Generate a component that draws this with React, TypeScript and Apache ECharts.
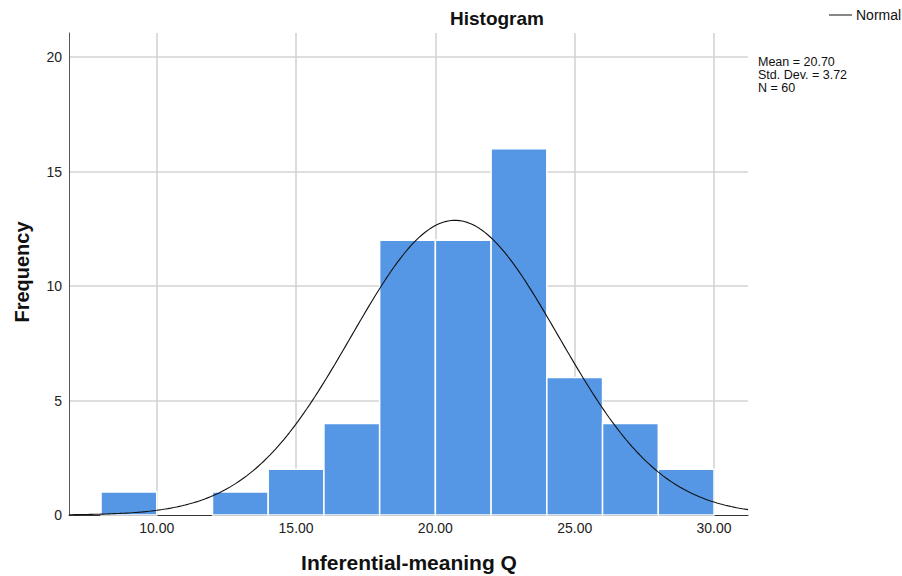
import React, { useEffect, useRef } from "react";
import * as echarts from "echarts";

// Histogram bins: [start, end] and the count in each bin
const binStarts = [8, 10, 12, 14, 16, 18, 20, 22, 24, 26, 28];
const binWidth = 2;
const counts = [1, 0, 1, 2, 4, 12, 12, 16, 6, 4, 2];

// Summary statistics shown beside the plot
const MEAN = 20.7;
const SD = 3.72;
const N = 60;
const statLines = [`Mean = ${MEAN.toFixed(2)}`, `Std. Dev. = ${SD.toFixed(2)}`, `N = ${N}`];

const xTickValues = [10, 15, 20, 25, 30];
const xMin = 6.85;
const xMax = 31.22;
const yMax = 21.05;

const FONT = "'Liberation Sans', Arial, Helvetica, sans-serif";

// Fitted normal curve, scaled to frequency per bin
function normalCurve(): number[][] {
  const pts: number[][] = [];
  const steps = 240;
  for (let i = 0; i <= steps; i++) {
    const x = xMin + ((xMax - xMin) * i) / steps;
    const z = (x - MEAN) / SD;
    const y = (N * binWidth * Math.exp(-0.5 * z * z)) / (SD * Math.sqrt(2 * Math.PI));
    pts.push([x, y]);
  }
  return pts;
}

export default function App() {
  const ref = useRef<HTMLDivElement>(null);

  useEffect(() => {
    if (!ref.current) return;
    const chart = echarts.init(ref.current, null, { renderer: "svg" });
    const bins = binStarts.map((s, i) => [s, s + binWidth, counts[i]]);

    chart.setOption({
      animation: false,
      backgroundColor: "#ffffff",
      textStyle: { fontFamily: FONT },
      grid: { left: 69, right: 154, top: 33, bottom: 61, containLabel: false },
      xAxis: {
        type: "value",
        min: xMin,
        max: xMax,
        axisLine: { show: true, lineStyle: { color: "#333333", width: 1 } },
        axisTick: { show: false },
        splitLine: { show: false },
        axisLabel: {
          customValues: xTickValues,
          formatter: (v: number) => v.toFixed(2),
          color: "#222222",
          fontSize: 14,
          margin: 6,
          fontFamily: FONT,
        },
      },
      yAxis: {
        type: "value",
        min: 0,
        max: yMax,
        interval: 5,
        axisLine: { show: true, lineStyle: { color: "#555555", width: 1 } },
        axisTick: { show: false },
        axisLabel: {
          color: "#222222",
          fontSize: 14,
          margin: 7,
          showMaxLabel: false,
          fontFamily: FONT,
        },
        splitLine: {
          show: true,
          showMinLine: false,
          showMaxLine: false,
          lineStyle: { color: "#d3d3d3", width: 1.5 },
        },
      },
      series: [
        {
          // vertical grid lines at the labelled x values
          type: "line",
          data: [],
          silent: true,
          markLine: {
            silent: true,
            symbol: ["none", "none"],
            label: { show: false },
            lineStyle: { color: "#d0d0d0", width: 1.5, type: "solid" },
            data: xTickValues.map((v) => ({ xAxis: v })),
          },
        },
        {
          type: "custom",
          z: 10,
          data: bins,
          encode: { x: [0, 1], y: 2 },
          renderItem: (params: any, api: any) => {
            const s = api.value(0);
            const e = api.value(1);
            const c = api.value(2);
            if (!c) return null;
            const p0 = api.coord([s, 0]);
            const p1 = api.coord([e, c]);
            return {
              type: "rect",
              shape: {
                x: p0[0],
                y: p1[1],
                width: p1[0] - p0[0],
                height: p0[1] - p1[1],
              },
              style: { fill: "#5596e5", stroke: "#ffffff", lineWidth: 1.5 },
            };
          },
        },
        {
          name: "Normal",
          type: "line",
          z: 12,
          data: normalCurve(),
          showSymbol: false,
          smooth: false,
          lineStyle: { color: "#111111", width: 1.1 },
        },
      ],
      graphic: [
        {
          type: "text",
          x: 497,
          y: 18,
          style: {
            text: "Histogram",
            font: `bold 19px ${FONT}`,
            fill: "#111111",
            align: "center",
            verticalAlign: "middle",
          },
        },
        {
          type: "line",
          shape: { x1: 829, y1: 15, x2: 852, y2: 15 },
          style: { stroke: "#111111", lineWidth: 1 },
        },
        {
          type: "text",
          x: 856,
          y: 15,
          style: { text: "Normal", font: `14px ${FONT}`, fill: "#111111", verticalAlign: "middle" },
        },
        ...statLines.map((t, i) => ({
          type: "text",
          x: 758,
          y: 62 + i * 13,
          style: {
            text: t,
            font: `12.5px ${FONT}`,
            fill: "#111111",
            verticalAlign: "middle",
          },
        })),
        {
          type: "text",
          x: 409,
          y: 562,
          style: {
            text: "Inferential-meaning Q",
            font: `bold 21px ${FONT}`,
            fill: "#111111",
            align: "center",
            verticalAlign: "middle",
          },
        },
        {
          type: "text",
          x: 22,
          y: 272,
          rotation: Math.PI / 2,
          style: {
            text: "Frequency",
            font: `bold 20px ${FONT}`,
            fill: "#111111",
            align: "center",
            verticalAlign: "middle",
          },
        },
      ],
    });

    return () => chart.dispose();
  }, []);

  return <div ref={ref} style={{ width: 902, height: 576, position: "fixed", left: 0, top: 0 }} />;
}
